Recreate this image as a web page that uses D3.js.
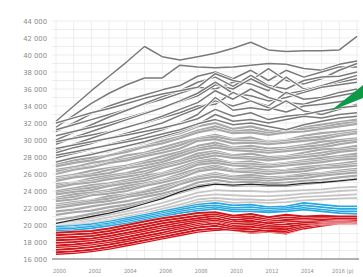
<!DOCTYPE html>
<html>
<head>
<meta charset="utf-8">
<script src="https://cdnjs.cloudflare.com/ajax/libs/d3/7.8.5/d3.min.js"></script>
<style>
body { margin: 0; background: #fff; }
svg { display: block; }
</style>
</head>
<body>
<svg id="chart" width="363" height="277"></svg>
<script>
var years = [2000, 2001, 2002, 2003, 2004, 2005, 2006, 2007, 2008, 2009, 2010, 2011, 2012, 2013, 2014, 2015, 2016, 2017];
var yTicks = [16000, 18000, 20000, 22000, 24000, 26000, 28000, 30000, 32000, 34000, 36000, 38000, 40000, 42000, 44000];
var xTickYears = [2000, 2002, 2004, 2006, 2008, 2010, 2012, 2014, 2016];
var xTickLabels = ["2000", "2002", "2004", "2006", "2008", "2010", "2012", "2014", "2016 (p)"];

// valeurs en milliers, une valeur par annee
var upperLines = [
    [32.2, 34.0, 35.8, 37.5, 39.2, 41.0, 39.8, 39.4, 39.8, 40.2, 40.8, 41.5, 40.6, 40.4, 40.5, 40.5, 40.6, 42.2],
    [31.5, 32.9, 34.3, 35.5, 36.5, 37.3, 37.3, 38.8, 38.6, 38.5, 38.6, 38.8, 39.0, 38.9, 38.4, 38.2, 38.9, 39.3],
    [31.0, 32.0, 33.1, 34.0, 34.7, 35.3, 35.9, 36.4, 37.5, 38.0, 37.2, 38.2, 37.0, 38.2, 37.4, 38.0, 38.6, 38.6],
    [31.2, 31.8, 32.4, 33.0, 33.6, 34.2, 34.8, 35.5, 36.2, 36.0, 36.8, 37.0, 38.4, 37.0, 36.6, 37.2, 38.2, 39.0],
    [30.0, 30.9, 31.8, 32.7, 33.5, 34.3, 35.1, 35.8, 36.8, 37.4, 36.3, 37.6, 36.4, 36.0, 37.0, 37.4, 37.5, 38.0],
    [32.0, 32.6, 33.2, 33.7, 34.3, 34.9, 35.4, 35.8, 36.2, 37.8, 37.0, 36.6, 35.8, 37.4, 36.0, 36.3, 36.8, 37.2],
    [30.5, 31.0, 31.5, 32.0, 32.6, 33.2, 33.8, 34.5, 35.2, 36.5, 36.0, 37.2, 36.2, 35.4, 35.8, 36.4, 37.0, 37.6],
    [29.5, 30.3, 31.0, 31.7, 32.4, 33.1, 33.8, 34.6, 35.5, 36.8, 35.5, 35.2, 34.6, 35.0, 35.6, 36.2, 36.5, 36.8],
    [29.8, 30.2, 30.6, 31.0, 31.5, 32.0, 32.6, 33.2, 34.0, 34.2, 35.6, 34.6, 34.0, 35.6, 34.8, 35.0, 35.6, 36.0],
    [28.8, 29.5, 30.2, 30.9, 31.5, 32.1, 32.8, 33.6, 34.4, 35.8, 34.8, 36.0, 35.0, 34.4, 34.2, 34.8, 35.2, 35.6],
    [28.5, 29.1, 29.6, 30.2, 30.8, 31.4, 32.0, 32.9, 33.7, 34.6, 34.0, 34.6, 33.8, 33.3, 34.0, 34.2, 34.5, 34.8],
    [27.9, 28.4, 28.9, 29.5, 30.0, 30.6, 31.2, 32.0, 33.0, 35.0, 33.5, 33.8, 33.5, 34.6, 33.4, 33.0, 33.6, 34.2],
    [29.0, 29.4, 29.8, 30.2, 30.6, 31.0, 31.4, 31.9, 32.5, 33.6, 32.8, 33.2, 32.4, 32.8, 33.0, 33.4, 33.8, 34.0],
    [27.4, 27.9, 28.3, 28.8, 29.3, 29.8, 30.4, 31.0, 31.8, 33.0, 32.2, 32.4, 32.0, 32.4, 32.8, 32.6, 33.0, 33.2],
    [28.2, 28.6, 29.0, 29.4, 29.8, 30.2, 30.7, 31.2, 31.9, 32.4, 31.8, 32.0, 31.6, 31.2, 31.8, 32.2, 32.6, 32.8]
];

var middleLines = [
    [27.4, 27.8, 28.4, 28.7, 29.3, 29.7, 30.3, 30.8, 31.6, 32.0, 31.3, 31.6, 31.1, 31.0, 31.5, 31.8, 32.1, 32.4],
    [27.1, 27.6, 27.9, 28.2, 28.8, 29.3, 29.9, 30.4, 31.1, 31.6, 31.0, 31.2, 30.8, 31.2, 31.3, 31.5, 31.9, 32.1],
    [26.9, 27.3, 27.6, 28.2, 28.6, 29.2, 29.6, 30.2, 30.9, 31.3, 30.8, 30.9, 30.6, 30.9, 31.0, 31.3, 31.6, 31.9],
    [26.5, 26.8, 27.3, 27.6, 28.2, 28.5, 29.1, 29.7, 30.2, 30.6, 30.1, 30.3, 29.8, 30.0, 30.5, 30.8, 31.0, 31.2],
    [26.3, 26.6, 26.9, 27.4, 27.8, 28.3, 28.8, 29.4, 30.1, 30.4, 30.0, 29.9, 29.7, 29.9, 30.2, 30.4, 30.7, 31.0],
    [26.0, 26.5, 26.8, 27.3, 27.6, 28.1, 28.5, 29.0, 29.9, 30.1, 29.6, 29.7, 29.5, 29.7, 29.9, 30.1, 30.5, 30.8],
    [25.6, 25.9, 26.4, 26.7, 27.0, 27.5, 28.1, 28.6, 29.3, 29.7, 29.1, 29.3, 29.0, 29.1, 29.4, 29.8, 30.0, 30.2],
    [25.4, 25.7, 26.0, 26.5, 26.8, 27.3, 27.7, 28.4, 29.0, 29.4, 29.0, 29.0, 28.7, 28.9, 29.2, 29.4, 29.8, 30.0],
    [25.2, 25.6, 25.8, 26.1, 26.7, 27.0, 27.4, 28.1, 28.8, 29.1, 28.8, 28.7, 28.5, 28.7, 28.9, 29.1, 29.5, 29.8],
    [24.8, 25.0, 25.5, 25.8, 26.1, 26.7, 27.1, 27.6, 28.4, 28.7, 28.2, 28.4, 28.0, 28.1, 28.5, 28.9, 29.0, 29.3],
    [24.6, 24.9, 25.2, 25.6, 25.9, 26.3, 26.9, 27.4, 28.1, 28.5, 28.1, 28.0, 27.8, 28.0, 28.2, 28.5, 28.8, 29.0],
    [24.4, 24.8, 25.0, 25.4, 25.7, 26.0, 26.7, 27.2, 27.8, 28.2, 27.9, 27.8, 27.6, 27.8, 28.0, 28.2, 28.6, 28.8],
    [24.0, 24.3, 24.7, 24.9, 25.3, 25.8, 26.1, 26.8, 27.5, 27.8, 27.3, 27.5, 27.1, 27.3, 27.6, 27.9, 28.1, 28.4],
    [23.8, 24.1, 24.4, 24.7, 25.1, 25.5, 26.0, 26.5, 27.3, 27.6, 27.2, 27.2, 27.0, 27.2, 27.4, 27.6, 27.9, 28.1],
    [23.6, 23.9, 24.1, 24.6, 24.9, 25.2, 25.8, 26.3, 27.1, 27.3, 27.0, 26.9, 26.8, 27.0, 27.2, 27.4, 27.7, 27.8],
    [23.2, 23.6, 23.8, 24.1, 24.6, 24.9, 25.3, 26.0, 26.6, 27.0, 26.5, 26.7, 26.4, 26.5, 26.8, 27.0, 27.2, 27.5],
    [23.0, 23.3, 23.6, 23.9, 24.3, 24.7, 25.2, 25.7, 26.4, 26.8, 26.4, 26.4, 26.2, 26.4, 26.6, 26.8, 27.0, 27.2],
    [22.8, 23.0, 23.5, 23.7, 24.0, 24.6, 25.0, 25.5, 26.3, 26.6, 26.3, 26.2, 26.0, 26.2, 26.3, 26.7, 26.8, 27.0],
    [22.4, 22.7, 22.9, 23.4, 23.6, 24.0, 24.6, 25.1, 25.7, 26.1, 25.7, 25.9, 25.6, 25.7, 26.0, 26.1, 26.4, 26.6],
    [22.2, 22.5, 22.8, 23.1, 23.5, 23.9, 24.3, 24.9, 25.6, 25.9, 25.6, 25.6, 25.4, 25.6, 25.8, 26.0, 26.2, 26.4],
    [22.0, 22.3, 22.6, 22.8, 23.3, 23.6, 24.0, 24.8, 25.4, 25.7, 25.4, 25.3, 25.2, 25.4, 25.5, 25.8, 26.0, 26.2],
    [21.6, 21.8, 22.2, 22.5, 22.8, 23.3, 23.7, 24.2, 25.0, 25.3, 25.0, 25.1, 24.9, 25.0, 25.2, 25.3, 25.6, 25.8],
    [21.2, 21.5, 21.7, 22.1, 22.4, 22.8, 23.4, 23.9, 24.6, 24.9, 24.7, 24.7, 24.6, 24.7, 24.9, 25.1, 25.2, 25.5],
    [20.6, 20.9, 21.3, 21.7, 22.1, 22.6, 23.2, 23.8, 24.4, 24.8, 24.6, 24.7, 24.6, 24.6, 24.8, 25.0, 25.2, 25.4]
];

var lightLines = [
    [20.1, 20.4, 20.8, 21.2, 21.6, 22.1, 22.6, 23.2, 23.8, 24.1, 24.0, 24.0, 23.9, 24.0, 24.1, 24.2, 24.4, 24.5],
    [20.0, 20.2, 20.5, 20.9, 21.3, 21.7, 22.2, 22.8, 23.4, 23.6, 23.5, 23.4, 23.4, 23.5, 23.7, 23.8, 24.0, 24.1],
    [19.9, 20.1, 20.3, 20.6, 21.0, 21.4, 21.9, 22.4, 23.0, 23.2, 23.0, 23.0, 22.9, 23.1, 23.3, 23.4, 23.5, 23.6],
    [19.9, 20.0, 20.2, 20.5, 20.8, 21.2, 21.6, 22.1, 22.7, 22.9, 22.6, 22.7, 22.6, 22.7, 22.9, 23.0, 23.1, 23.2]
];

var averageLine = [20.2, 20.6, 21.0, 21.4, 21.9, 22.5, 23.1, 23.9, 24.5, 24.8, 24.7, 24.8, 24.7, 24.7, 24.9, 25.0, 25.2, 25.4];

var blueLines = [
    [19.8, 19.9, 20.1, 20.4, 20.8, 21.2, 21.6, 22.0, 22.4, 22.6, 22.3, 22.4, 22.1, 22.2, 22.6, 22.4, 22.2, 22.2],
    [19.6, 19.7, 19.9, 20.2, 20.6, 21.0, 21.4, 21.8, 22.2, 22.3, 22.0, 22.1, 21.9, 22.0, 22.3, 22.1, 21.9, 21.9],
    [19.5, 19.6, 19.8, 20.0, 20.4, 20.8, 21.2, 21.6, 21.9, 22.1, 21.8, 21.8, 21.7, 21.8, 22.0, 21.8, 21.6, 21.6],
    [19.3, 19.4, 19.6, 19.9, 20.2, 20.6, 21.0, 21.4, 21.7, 21.9, 21.6, 21.6, 21.5, 21.6, 21.8, 21.6, 21.4, 21.3]
];

var redLines = [
    [19.1, 19.2, 19.3, 19.6, 20.0, 20.4, 20.8, 21.1, 21.4, 21.5, 21.1, 21.3, 20.9, 21.2, 21.0, 21.1, 21.0, 21.0],
    [18.8, 18.9, 19.0, 19.3, 19.7, 20.1, 20.5, 20.8, 21.1, 21.3, 20.9, 21.0, 20.7, 20.9, 20.8, 20.9, 20.8, 20.8],
    [18.5, 18.6, 18.7, 19.0, 19.4, 19.8, 20.2, 20.5, 20.8, 21.1, 20.6, 20.8, 20.5, 20.6, 20.7, 20.6, 20.7, 20.6],
    [18.2, 18.3, 18.4, 18.7, 19.1, 19.5, 19.9, 20.3, 20.6, 20.8, 20.4, 20.5, 20.2, 20.4, 20.5, 20.5, 20.6, 20.5],
    [17.9, 18.0, 18.2, 18.5, 18.9, 19.3, 19.7, 20.0, 20.4, 20.6, 20.2, 20.3, 20.0, 20.1, 20.3, 20.4, 20.5, 20.4],
    [17.6, 17.7, 17.9, 18.2, 18.6, 19.0, 19.4, 19.8, 20.2, 20.5, 20.0, 20.1, 19.8, 19.8, 20.1, 20.3, 20.4, 20.3],
    [17.4, 17.5, 17.7, 18.0, 18.3, 18.7, 19.1, 19.6, 20.0, 20.2, 19.8, 19.8, 19.6, 19.5, 20.0, 20.2, 20.3, 20.3],
    [17.1, 17.2, 17.4, 17.7, 18.1, 18.5, 18.9, 19.3, 19.7, 19.9, 19.6, 19.5, 19.3, 19.3, 19.8, 20.1, 20.2, 20.2],
    [16.8, 16.9, 17.1, 17.4, 17.8, 18.2, 18.6, 19.0, 19.4, 19.6, 19.4, 19.2, 19.3, 19.1, 19.6, 19.9, 20.2, 20.2],
    [16.6, 16.7, 16.9, 17.2, 17.6, 18.0, 18.4, 18.8, 19.2, 19.4, 19.4, 19.1, 19.2, 19.0, 19.6, 19.9, 20.2, 20.2]
];

// la fleche verte pointe sur cette valeur
var arrowYear = 2015.5;
var arrowValue = 33.4;

var svg = d3.select("#chart");
var width = 363, height = 277;

var x = d3.scaleLinear().domain([2000, 2017]).range([56, 357]);
var y = d3.scaleLinear().domain([16000, 44000]).range([259, 21]);

// grille : une ligne par 1000 et une par annee
var grid = svg.append("g");
grid.selectAll("line.h")
    .data(d3.range(16000, 44001, 1000))
    .enter()
    .append("line")
        .attr("x1", x(2000) - 4)
        .attr("x2", x(2017) + 2)
        .attr("y1", d => y(d))
        .attr("y2", d => y(d))
        .attr("stroke", "#e8e8e8")
        .attr("stroke-width", 0.8);

grid.selectAll("line.v")
    .data(years)
    .enter()
    .append("line")
        .attr("x1", d => x(d))
        .attr("x2", d => x(d))
        .attr("y1", y(44000))
        .attr("y2", y(16000))
        .attr("stroke", "#e8e8e8")
        .attr("stroke-width", 0.8);

// axe du bas
svg.append("line")
    .attr("x1", x(2000) - 4)
    .attr("x2", x(2017) + 2)
    .attr("y1", y(16000))
    .attr("y2", y(16000))
    .attr("stroke", "#9a9a9a")
    .attr("stroke-width", 1.5);

var yAxis = d3.axisLeft(y)
    .tickValues(yTicks)
    .tickSize(0)
    .tickPadding(0)
    .tickFormat(d => d3.format(",")(d).replace(",", " "));

svg.append("g")
    .attr("transform", "translate(47,0)")
    .call(yAxis)
    .call(g => g.select(".domain").remove())
    .selectAll("text")
        .attr("font-family", "DejaVu Sans, sans-serif")
        .attr("font-size", 6.8)
        .attr("fill", "#8c8c8c");

var xAxis = d3.axisBottom(x)
    .tickValues(xTickYears)
    .tickSize(0)
    .tickPadding(0)
    .tickFormat((d, i) => xTickLabels[i]);

svg.append("g")
    .attr("transform", "translate(3,269)")
    .call(xAxis)
    .call(g => g.select(".domain").remove())
    .selectAll("text")
        .attr("font-family", "DejaVu Sans Condensed, sans-serif")
        .attr("font-size", 5.6)
        .attr("fill", "#8c8c8c");

var line = d3.line()
    .x((d, i) => x(years[i]))
    .y(d => y(d * 1000));

// chaque courbe a un liseré blanc dessous
function drawLines(data, color, w, halo){
    var g = svg.append("g");
    data.forEach(function(serie){
        g.append("path")
            .attr("d", line(serie))
            .attr("fill", "none")
            .attr("stroke", "#fff")
            .attr("stroke-width", w + halo)
            .attr("stroke-linejoin", "round");
        g.append("path")
            .attr("d", line(serie))
            .attr("fill", "none")
            .attr("stroke", color)
            .attr("stroke-width", w)
            .attr("stroke-linejoin", "round");
    });
}

drawLines(lightLines, "#c6c6c6", 1.8, 0.8);
drawLines(middleLines, "#a8a8a8", 2.2, 0.8);
drawLines(upperLines, "#7a7a7a", 1.5, 1.6);
drawLines([averageLine], "#262626", 1.3, 0.6);
drawLines(blueLines, "#29a8df", 1.8, 0.6);
drawLines(redLines.slice().reverse(), "#d0161c", 2.0, 0.7);

// fleche verte
var tipX = x(arrowYear), tipY = y(arrowValue * 1000);
svg.append("polygon")
    .attr("points", [[tipX, tipY], [width, tipY - 26], [width, tipY - 13]].map(p => p.join(",")).join(" "))
    .attr("fill", "#0d9a48");
</script>
</body>
</html>
